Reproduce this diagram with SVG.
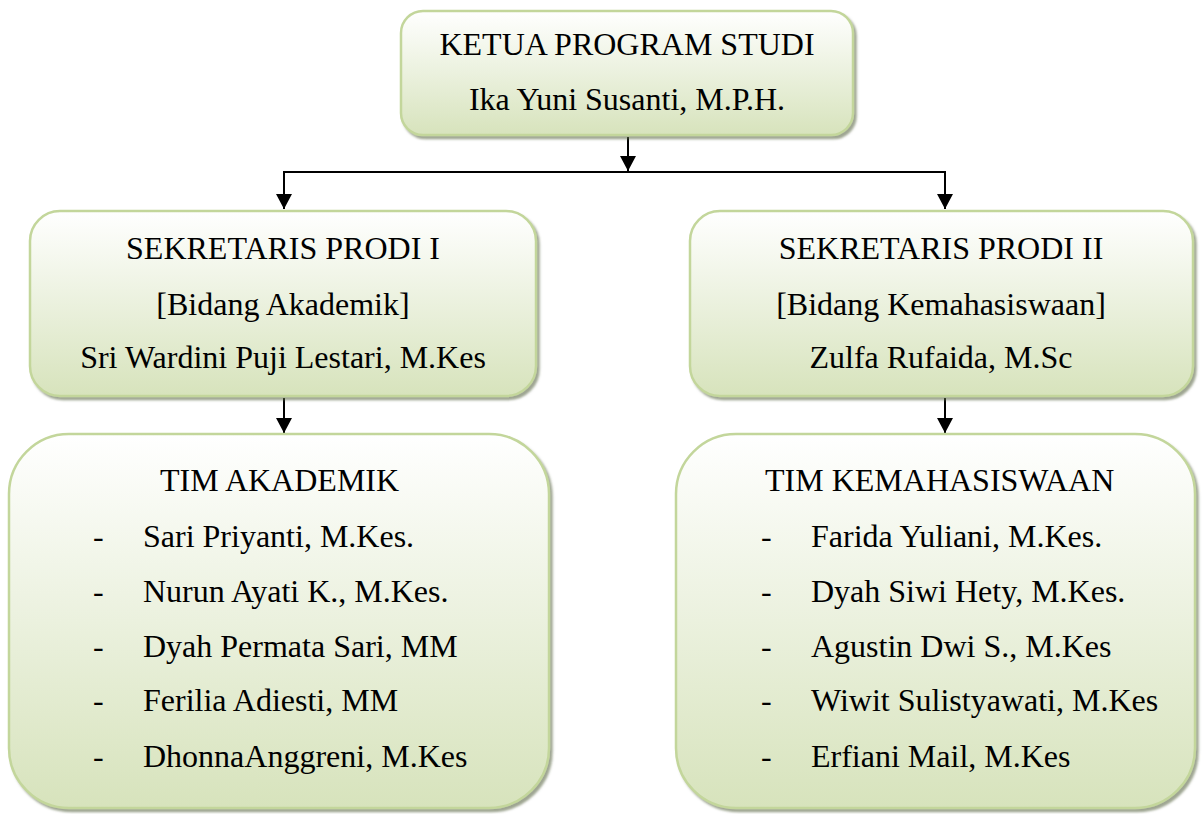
<svg xmlns="http://www.w3.org/2000/svg" width="1203" height="814" viewBox="0 0 1203 814">
<style>
.box{fill:url(#g);stroke:#c3d69b;stroke-width:2.5;filter:url(#sh)}
text{font-family:"Liberation Serif","Times New Roman",serif;font-size:32px;fill:#000}
.c{text-anchor:middle}
.conn{stroke:#000;stroke-width:2;fill:none}
.arr{marker-end:url(#ah)}
</style>
<defs>
<linearGradient id="g" x1="0" y1="0" x2="0" y2="1">
<stop offset="0" stop-color="#ffffff"/>
<stop offset="0.5" stop-color="#ebf1de"/>
<stop offset="1" stop-color="#d7e3bc"/>
</linearGradient>
<filter id="sh" x="-5%" y="-5%" width="115%" height="115%">
<feDropShadow dx="2.5" dy="3" stdDeviation="1" flood-color="#5f6b48" flood-opacity="0.6"/>
</filter>
<marker id="ah" viewBox="0 0 15 16" refX="15" refY="8" markerWidth="15" markerHeight="16" markerUnits="userSpaceOnUse" orient="auto">
<path d="M0,0 L15,8 L0,16 z" fill="#000"/>
</marker>
</defs>

<g id="connectors">
<line class="conn arr" x1="628" y1="137" x2="628" y2="171"/>
<line class="conn" x1="283" y1="172" x2="946" y2="172"/>
<line class="conn arr" x1="284" y1="172" x2="284" y2="209"/>
<line class="conn arr" x1="945" y1="172" x2="945" y2="209"/>
<line class="conn arr" x1="284" y1="398" x2="284" y2="433"/>
<line class="conn arr" x1="945" y1="398" x2="945" y2="433"/>
</g>

<g id="ketua">
<rect class="box" x="401" y="11" width="452" height="124" rx="22"/>
<text class="c" x="627" y="55">KETUA PROGRAM STUDI</text>
<text class="c" x="627" y="110">Ika Yuni Susanti, M.P.H.</text>
</g>

<g id="sekretaris1">
<rect class="box" x="30" y="211" width="506" height="185" rx="30"/>
<text class="c" x="283" y="259">SEKRETARIS PRODI I</text>
<text class="c" x="283" y="315">[Bidang Akademik]</text>
<text class="c" x="283" y="368">Sri Wardini Puji Lestari, M.Kes</text>
</g>

<g id="sekretaris2">
<rect class="box" x="690" y="211" width="503" height="185" rx="30"/>
<text class="c" x="941" y="259">SEKRETARIS PRODI II</text>
<text class="c" x="941" y="315">[Bidang Kemahasiswaan]</text>
<text class="c" x="941" y="368">Zulfa Rufaida, M.Sc</text>
</g>

<g id="tim-akademik">
<rect class="box" x="9" y="434" width="540" height="374" rx="60"/>
<text x="160" y="491">TIM AKADEMIK</text>
<text x="93" y="547">-</text><text x="143" y="547">Sari Priyanti, M.Kes.</text>
<text x="93" y="602">-</text><text x="143" y="602">Nurun Ayati K., M.Kes.</text>
<text x="93" y="657">-</text><text x="143" y="657">Dyah Permata Sari, MM</text>
<text x="93" y="711">-</text><text x="143" y="711">Ferilia Adiesti, MM</text>
<text x="93" y="767">-</text><text x="143" y="767">DhonnaAnggreni, M.Kes</text>
</g>

<g id="tim-kemahasiswaan">
<rect class="box" x="676" y="434" width="519" height="374" rx="60"/>
<text x="765" y="491">TIM KEMAHASISWAAN</text>
<text x="761" y="547">-</text><text x="811" y="547">Farida Yuliani, M.Kes.</text>
<text x="761" y="602">-</text><text x="811" y="602">Dyah Siwi Hety, M.Kes.</text>
<text x="761" y="657">-</text><text x="811" y="657">Agustin Dwi S., M.Kes</text>
<text x="761" y="711">-</text><text x="811" y="711">Wiwit Sulistyawati, M.Kes</text>
<text x="761" y="767">-</text><text x="811" y="767">Erfiani Mail, M.Kes</text>
</g>
</svg>
